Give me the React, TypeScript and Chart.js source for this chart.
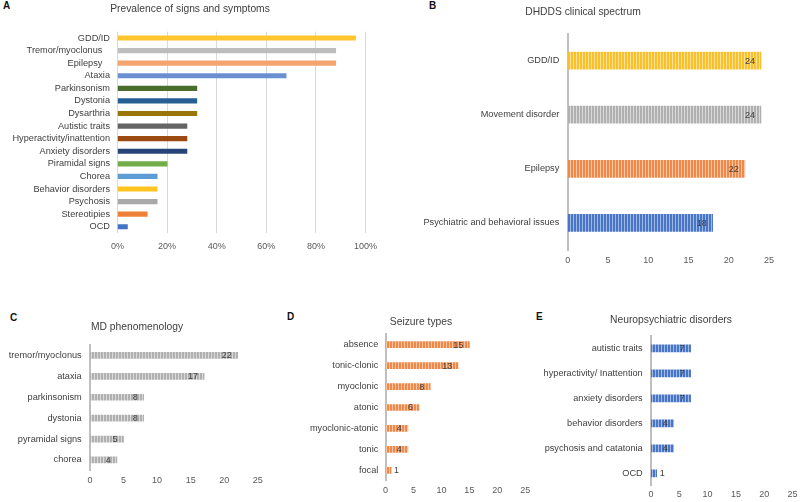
import React, { useEffect, useRef } from "react";
import { Chart, registerables } from "chart.js";

Chart.register(...registerables);

const FONT = "'Liberation Sans', Arial, Helvetica, sans-serif";
Chart.defaults.font.family = FONT;

// ---------- DATA ----------
const symptomLabels = [
  "GDD/ID",
  "Tremor/myoclonus   ",
  "Epilepsy   ",
  "Ataxia",
  "Parkinsonism",
  "Dystonia",
  "Dysarthria",
  "Autistic traits",
  "Hyperactivity/inattention",
  "Anxiety disorders",
  "Piramidal signs",
  "Chorea",
  "Behavior disorders",
  "Psychosis",
  "Stereotipies",
  "OCD",
];
const symptomPercent = [96, 88, 88, 68, 32, 32, 32, 28, 28, 28, 20, 16, 16, 16, 12, 4];

const spectrumLabels = ["GDD/ID", "Movement disorder", "Epilepsy", "Psychiatric and behavioral issues"];
const spectrumCounts = [24, 24, 22, 18];

const mdLabels = ["tremor/myoclonus", "ataxia", "parkinsonism", "dystonia", "pyramidal signs", "chorea"];
const mdCounts = [22, 17, 8, 8, 5, 4];

const seizureLabels = ["absence", "tonic-clonic", "myoclonic", "atonic", "myoclonic-atonic", "tonic", "focal"];
const seizureCounts = [15, 13, 8, 6, 4, 4, 1];

const neuroLabels = [
  "autistic traits",
  "hyperactivity/ Inattention",
  "anxiety disorders",
  "behavior disorders",
  "psychosis and catatonia",
  "OCD",
];
const neuroCounts = [7, 7, 7, 4, 4, 1];

// ---------- STYLES ----------
const symptomColors = [
  "#FFC62F", "#BDBDBD", "#F4A46E", "#6A90D2", "#4B6D2C", "#275E93", "#9A7508", "#646464",
  "#9C4912", "#27457A", "#71AD49", "#5E9CD6", "#FFC420", "#A9A9A9", "#EE8037", "#4472C4",
];

const STRIPES = {
  yellow: ["#F8C12C", "#FCE196"],
  gray: ["#B0B0B0", "#DADADA"],
  orange: ["#EF894A", "#F9C7A6"],
  blue: ["#4975C6", "#A0B8E4"],
};

function stripePattern(colors: string[]): CanvasPattern | string {
  const c = document.createElement("canvas");
  c.width = 3;
  c.height = 4;
  const ctx = c.getContext("2d");
  if (!ctx) return colors[0];
  ctx.fillStyle = colors[0];
  ctx.fillRect(0, 0, 3, 4);
  ctx.fillStyle = colors[1];
  ctx.fillRect(2, 0, 1, 4);
  return ctx.createPattern(c, "repeat") || colors[0];
}

const valueLabelPlugin = {
  id: "valueLabels",
  afterDatasetsDraw(chart: any, _args: any, opts: any) {
    if (!opts || !opts.display) return;
    const ctx = chart.ctx;
    const meta = chart.getDatasetMeta(0);
    const data = chart.data.datasets[0].data;
    ctx.save();
    ctx.font = `${opts.size}px ${FONT}`;
    ctx.fillStyle = opts.color;
    ctx.textBaseline = "middle";
    meta.data.forEach((bar: any, i: number) => {
      const txt = String(data[i]);
      const w = ctx.measureText(txt).width;
      const { x, y, base } = bar.getProps(["x", "y", "base"], true);
      if (x - base >= w + 10) {
        ctx.textAlign = "right";
        ctx.fillText(txt, x - 6, y + 0.5);
      } else {
        ctx.textAlign = "left";
        ctx.fillText(txt, x + 3, y + 0.5);
      }
    });
    ctx.restore();
  },
};

// Panel title drawn at a fixed spot of the canvas (Excel-style panel heading)
const panelTitlePlugin = {
  id: "panelTitle",
  afterDraw(chart: any, _args: any, opts: any) {
    if (!opts || !opts.text) return;
    const ctx = chart.ctx;
    ctx.save();
    ctx.font = `${opts.size}px ${FONT}`;
    ctx.fillStyle = opts.color;
    ctx.textAlign = "center";
    ctx.textBaseline = "middle";
    ctx.fillText(opts.text, opts.x, opts.y);
    ctx.restore();
  },
};

type PanelLayout = {
  chartLeft: number;
  chartRight: number;
  chartTop: number;
  chartBottom: number;
  titleX: number;
  titleY: number;
  tickY: number;
  labelRight: number;
  left: number;
  top: number;
  height: number;
  padRight: number;
  barThickness: number;
};

type PanelProps = {
  title: string;
  labels: string[];
  values: number[];
  fills: () => (string | CanvasPattern)[];
  max: number;
  step: number;
  percent?: boolean;
  gridlines?: boolean;
  valueLabels?: boolean;
  layout: PanelLayout;
};

function Panel(p: PanelProps) {
  const ref = useRef<HTMLCanvasElement>(null);
  const lay = p.layout;
  const L = lay.left;
  const W = Math.round(lay.chartRight + lay.padRight - L);
  const padRight = L + W - lay.chartRight;
  const yAxisW = lay.chartLeft - L;
  const T = lay.top;
  const H = lay.height;
  const xAxisH = T + H - lay.chartBottom;
  const padTop = lay.chartTop - T;
  const titleSize = 10.3;
  const tickSize = 9;
  const labelSize = 9.2;
  const xTickPad = lay.tickY - lay.chartBottom - (tickSize * 1.2) / 2;
  const yTickPad = lay.chartLeft - lay.labelRight;

  useEffect(() => {
    if (!ref.current) return;
    const chart = new Chart(ref.current, {
      type: "bar",
      data: {
        labels: p.labels,
        datasets: [
          {
            data: p.values,
            backgroundColor: p.fills() as any,
            borderWidth: 0,
            barThickness: lay.barThickness,
          },
        ],
      },
      options: {
        indexAxis: "y",
        responsive: false,
        animation: false,
        devicePixelRatio: 1,
        layout: { padding: { left: 0, right: padRight, top: padTop, bottom: 0 } },
        plugins: {
          legend: { display: false },
          tooltip: { enabled: false },
          title: { display: false },
          panelTitle: {
            text: p.title,
            x: lay.titleX - L,
            y: lay.titleY - T,
            size: titleSize,
            color: "#404040",
          },
          valueLabels: { display: !!p.valueLabels, size: 9, color: "#404040" },
        } as any,
        scales: {
          x: {
            type: "linear",
            min: 0,
            max: p.max,
            ticks: {
              stepSize: p.step,
              padding: xTickPad,
              color: "#595959",
              font: { size: tickSize, family: FONT },
              callback: (v: any) => (p.percent ? `${v}%` : String(v)),
            },
            grid: { display: !!p.gridlines, drawTicks: false, color: "#D9D9D9", lineWidth: 1 },
            border: { display: false },
            afterFit: (s: any) => {
              s.height = xAxisH;
              s.paddingLeft = 0;
              s.paddingRight = 0;
            },
          },
          y: {
            type: "category",
            ticks: {
              padding: yTickPad,
              color: "#404040",
              font: { size: labelSize, family: FONT },
              autoSkip: false,
            },
            grid: { display: false, drawTicks: false },
            border: { display: !p.gridlines, color: "#BFBFBF", width: 2 },
            afterFit: (s: any) => {
              s.width = yAxisW;
              s.paddingTop = 0;
              s.paddingBottom = 0;
            },
          },
        } as any,
      },
      plugins: [valueLabelPlugin as any, panelTitlePlugin as any],
    });
    return () => chart.destroy();
  }, []);

  return (
    <canvas
      ref={ref}
      width={W}
      height={H}
      style={{ position: "absolute", left: L, top: T, width: W, height: H }}
    />
  );
}

const letterStyle: React.CSSProperties = {
  position: "absolute",
  fontFamily: FONT,
  fontWeight: "bold",
  fontSize: 10,
  lineHeight: "10px",
  color: "#111",
};

export default function App() {
  useEffect(() => {
    document.body.style.margin = "0";
  }, []);

  return (
    <div
      style={{
        position: "absolute",
        left: 0,
        top: 0,
        width: 800,
        height: 502,
        background: "#ffffff",
        overflow: "hidden",
      }}
    >
      <div style={{ ...letterStyle, left: 3, top: 1 }}>A</div>
      <div style={{ ...letterStyle, left: 429, top: 1 }}>B</div>
      <div style={{ ...letterStyle, left: 10, top: 313 }}>C</div>
      <div style={{ ...letterStyle, left: 287, top: 312 }}>D</div>
      <div style={{ ...letterStyle, left: 536, top: 312 }}>E</div>

      <Panel
        title="Prevalence of signs and symptoms"
        labels={symptomLabels}
        values={symptomPercent}
        fills={() => symptomColors}
        max={100}
        step={20}
        percent
        gridlines
        layout={{
          chartLeft: 117.5, chartRight: 365.5, chartTop: 31.7, chartBottom: 233,
          titleX: 190, titleY: 9.3, tickY: 247, labelRight: 110,
          left: 0, top: 0, height: 262, padRight: 14.5, barThickness: 4.5,
        }}
      />
      <Panel
        title="DHDDS clinical spectrum"
        labels={spectrumLabels}
        values={spectrumCounts}
        fills={() => [
          stripePattern(STRIPES.yellow),
          stripePattern(STRIPES.gray),
          stripePattern(STRIPES.orange),
          stripePattern(STRIPES.blue),
        ]}
        max={25}
        step={5}
        valueLabels
        layout={{
          chartLeft: 567.7, chartRight: 769, chartTop: 33.5, chartBottom: 250,
          titleX: 583, titleY: 12.3, tickY: 261, labelRight: 559.3,
          left: 412, top: 0, height: 272, padRight: 9, barThickness: 17,
        }}
      />
      <Panel
        title="MD phenomenology"
        labels={mdLabels}
        values={mdCounts}
        fills={() => mdCounts.map(() => stripePattern(STRIPES.gray))}
        max={25}
        step={5}
        valueLabels
        layout={{
          chartLeft: 90, chartRight: 257.8, chartTop: 345, chartBottom: 470.4,
          titleX: 137, titleY: 326.7, tickY: 480.7, labelRight: 81.7,
          left: 2, top: 300, height: 200, padRight: 10, barThickness: 6,
        }}
      />
      <Panel
        title="Seizure types"
        labels={seizureLabels}
        values={seizureCounts}
        fills={() => seizureCounts.map(() => stripePattern(STRIPES.orange))}
        max={25}
        step={5}
        valueLabels
        layout={{
          chartLeft: 385.5, chartRight: 525.3, chartTop: 334.2, chartBottom: 480.8,
          titleX: 421, titleY: 322.3, tickY: 491, labelRight: 378.3,
          left: 300, top: 300, height: 202, padRight: 10, barThickness: 6,
        }}
      />
      <Panel
        title="Neuropsychiatric disorders"
        labels={neuroLabels}
        values={neuroCounts}
        fills={() => neuroCounts.map(() => stripePattern(STRIPES.blue))}
        max={25}
        step={5}
        valueLabels
        layout={{
          chartLeft: 651, chartRight: 792.5, chartTop: 335.8, chartBottom: 485.8,
          titleX: 671, titleY: 320, tickY: 495, labelRight: 642.7,
          left: 542, top: 300, height: 202, padRight: 7.5, barThickness: 7,
        }}
      />
    </div>
  );
}
